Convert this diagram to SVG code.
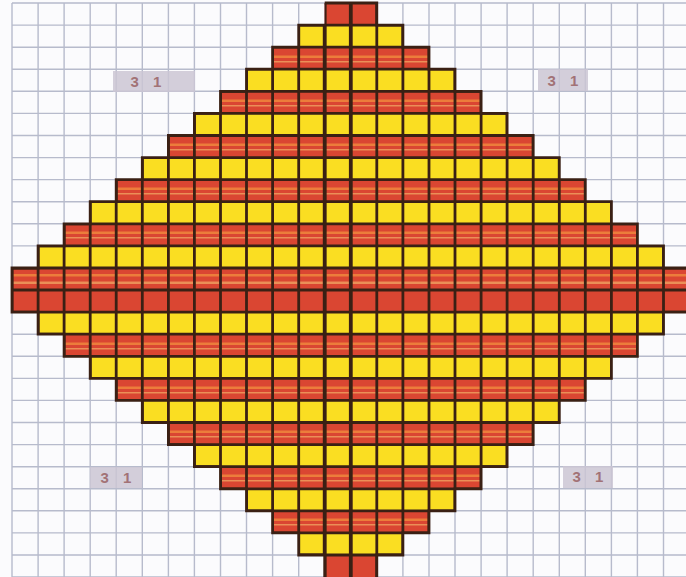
<svg xmlns="http://www.w3.org/2000/svg" width="686" height="577" viewBox="0 0 686 577">
<style>
.bg{fill:#fbfbfd}
.grid{stroke:#b7bbcc;stroke-width:1.4;fill:none}
.r{fill:#da4632}
.y{fill:#fade22}
.st1{fill:#f2903f;opacity:.75}
.st2{fill:#f6c070;opacity:.6}
.dk{stroke:#3a2014;stroke-width:2.8;fill:none}
.thick{stroke:#3a2014;stroke-width:3.8;fill:none}
.lblbox{fill:#cbc6d4;opacity:.85}
.lbl{font-family:"Liberation Sans",Arial,sans-serif;font-size:15px;font-weight:bold;fill:#8e4c4c;opacity:.7;text-anchor:middle;word-spacing:10px}
</style>
<defs>
<clipPath id="dia">
<rect x="324.7" y="3" width="52.1" height="22.1"/>
<rect x="298.7" y="25.1" width="104.2" height="22.1"/>
<rect x="272.6" y="47.2" width="156.4" height="22"/>
<rect x="246.5" y="69.2" width="208.5" height="22.1"/>
<rect x="220.5" y="91.3" width="260.6" height="22.1"/>
<rect x="194.4" y="113.4" width="312.7" height="22.1"/>
<rect x="168.4" y="135.5" width="364.8" height="22.1"/>
<rect x="142.3" y="157.6" width="417" height="22"/>
<rect x="116.2" y="179.6" width="469.1" height="22.1"/>
<rect x="90.2" y="201.7" width="521.2" height="22.1"/>
<rect x="64.1" y="223.8" width="573.3" height="22.1"/>
<rect x="38.1" y="245.9" width="625.4" height="22.1"/>
<rect x="12" y="268" width="677.6" height="44.1"/>
<rect x="38.1" y="312.1" width="625.4" height="22.1"/>
<rect x="64.1" y="334.2" width="573.3" height="22.1"/>
<rect x="90.2" y="356.3" width="521.2" height="22.1"/>
<rect x="116.2" y="378.4" width="469.1" height="22"/>
<rect x="142.3" y="400.4" width="417" height="22.1"/>
<rect x="168.4" y="422.5" width="364.8" height="22.1"/>
<rect x="194.4" y="444.6" width="312.7" height="22.1"/>
<rect x="220.5" y="466.7" width="260.6" height="22.1"/>
<rect x="246.5" y="488.8" width="208.5" height="22"/>
<rect x="272.6" y="510.8" width="156.4" height="22.1"/>
<rect x="298.7" y="532.9" width="104.2" height="22.1"/>
<rect x="324.7" y="555" width="52.1" height="22.1"/>
</clipPath>
</defs>
<rect class="bg" x="0" y="0" width="686" height="577"/>
<g id="background-grid">
<path class="grid" d="M12 3V577M38.1 3V577M64.1 3V577M90.2 3V577M116.2 3V577M142.3 3V577M168.4 3V577M194.4 3V577M220.5 3V577M246.5 3V577M272.6 3V577M298.7 3V577M324.7 3V577M350.8 3V577M376.8 3V577M402.9 3V577M429 3V577M455 3V577M481.1 3V577M507.1 3V577M533.2 3V577M559.3 3V577M585.3 3V577M611.4 3V577M637.4 3V577M663.5 3V577"/>
<path class="grid" d="M12 3H686M12 25.1H686M12 47.2H686M12 69.2H686M12 91.3H686M12 113.4H686M12 135.5H686M12 157.6H686M12 179.6H686M12 201.7H686M12 223.8H686M12 245.9H686M12 268H686M12 290H686M12 312.1H686M12 334.2H686M12 356.3H686M12 378.4H686M12 400.4H686M12 422.5H686M12 444.6H686M12 466.7H686M12 488.8H686M12 510.8H686M12 532.9H686M12 555H686M12 577H686"/>
</g>
<g id="diamond">
<rect class="r" x="324.7" y="3" width="52.1" height="22.1"/>
<rect class="y" x="298.7" y="25.1" width="104.2" height="22.1"/>
<rect class="r" x="272.6" y="47.2" width="156.4" height="22"/>
<rect class="y" x="246.5" y="69.2" width="208.5" height="22.1"/>
<rect class="r" x="220.5" y="91.3" width="260.6" height="22.1"/>
<rect class="y" x="194.4" y="113.4" width="312.7" height="22.1"/>
<rect class="r" x="168.4" y="135.5" width="364.8" height="22.1"/>
<rect class="y" x="142.3" y="157.6" width="417" height="22"/>
<rect class="r" x="116.2" y="179.6" width="469.1" height="22.1"/>
<rect class="y" x="90.2" y="201.7" width="521.2" height="22.1"/>
<rect class="r" x="64.1" y="223.8" width="573.3" height="22.1"/>
<rect class="y" x="38.1" y="245.9" width="625.4" height="22.1"/>
<rect class="r" x="12" y="268" width="677.6" height="22"/>
<rect class="r" x="12" y="290" width="677.6" height="22.1"/>
<rect class="y" x="38.1" y="312.1" width="625.4" height="22.1"/>
<rect class="r" x="64.1" y="334.2" width="573.3" height="22.1"/>
<rect class="y" x="90.2" y="356.3" width="521.2" height="22.1"/>
<rect class="r" x="116.2" y="378.4" width="469.1" height="22"/>
<rect class="y" x="142.3" y="400.4" width="417" height="22.1"/>
<rect class="r" x="168.4" y="422.5" width="364.8" height="22.1"/>
<rect class="y" x="194.4" y="444.6" width="312.7" height="22.1"/>
<rect class="r" x="220.5" y="466.7" width="260.6" height="22.1"/>
<rect class="y" x="246.5" y="488.8" width="208.5" height="22"/>
<rect class="r" x="272.6" y="510.8" width="156.4" height="22.1"/>
<rect class="y" x="298.7" y="532.9" width="104.2" height="22.1"/>
<rect class="r" x="324.7" y="555" width="52.1" height="22.1"/>
</g>
<g id="stripes" clip-path="url(#dia)">
<rect class="st1" x="0" y="55.5" width="686" height="2.5"/><rect class="st2" x="0" y="61" width="686" height="1.5"/>
<rect class="st1" x="0" y="99.5" width="686" height="2.5"/><rect class="st2" x="0" y="105" width="686" height="1.5"/>
<rect class="st1" x="0" y="143.5" width="686" height="2.5"/><rect class="st2" x="0" y="149" width="686" height="1.5"/>
<rect class="st1" x="0" y="187.5" width="686" height="2.5"/><rect class="st2" x="0" y="193" width="686" height="1.5"/>
<rect class="st1" x="0" y="231.5" width="686" height="2.5"/><rect class="st2" x="0" y="237" width="686" height="1.5"/>
<rect class="st1" x="0" y="274" width="686" height="2.5"/><rect class="st2" x="0" y="281.5" width="686" height="2.5"/>
<rect class="st1" x="0" y="342.5" width="686" height="2.5"/><rect class="st2" x="0" y="348" width="686" height="1.5"/>
<rect class="st1" x="0" y="386.5" width="686" height="2.5"/><rect class="st2" x="0" y="392" width="686" height="1.5"/>
<rect class="st1" x="0" y="430.5" width="686" height="2.5"/><rect class="st2" x="0" y="436" width="686" height="1.5"/>
<rect class="st1" x="0" y="474.5" width="686" height="2.5"/><rect class="st2" x="0" y="480" width="686" height="1.5"/>
<rect class="st1" x="0" y="518.5" width="686" height="2.5"/><rect class="st2" x="0" y="524" width="686" height="1.5"/>
</g>
<g id="cell-lines" clip-path="url(#dia)">
<path class="dk" d="M12 0V577M38.1 0V577M64.1 0V577M90.2 0V577M116.2 0V577M142.3 0V577M168.4 0V577M194.4 0V577M220.5 0V577M246.5 0V577M272.6 0V577M298.7 0V577M376.8 0V577M402.9 0V577M429 0V577M455 0V577M481.1 0V577M507.1 0V577M533.2 0V577M559.3 0V577M585.3 0V577M611.4 0V577M637.4 0V577M663.5 0V577"/>
<path class="dk" d="M0 25.1H686M0 47.2H686M0 69.2H686M0 91.3H686M0 113.4H686M0 135.5H686M0 157.6H686M0 179.6H686M0 201.7H686M0 223.8H686M0 245.9H686M0 268H686M0 290H686M0 312.1H686M0 334.2H686M0 356.3H686M0 378.4H686M0 400.4H686M0 422.5H686M0 444.6H686M0 466.7H686M0 488.8H686M0 510.8H686M0 532.9H686M0 555H686"/>
<path class="thick" d="M324.7 0V577M350.8 0V577"/>
</g>
<g id="outline">
<path class="dk" d="M324.7 3H376.8V25.1H402.9V47.2H429V69.2H455V91.3H481.1V113.4H507.1V135.5H533.2V157.6H559.3V179.6H585.3V201.7H611.4V223.8H637.4V245.9H663.5V268H690M690 312.1H663.5V334.2H637.4V356.3H611.4V378.4H585.3V400.4H559.3V422.5H533.2V444.6H507.1V466.7H481.1V488.8H455V510.8H429V532.9H402.9V555H376.8V577M324.7 577V555H298.7V532.9H272.6V510.8H246.5V488.8H220.5V466.7H194.4V444.6H168.4V422.5H142.3V400.4H116.2V378.4H90.2V356.3H64.1V334.2H38.1V312.1H12V268H38.1V245.9H64.1V223.8H90.2V201.7H116.2V179.6H142.3V157.6H168.4V135.5H194.4V113.4H220.5V91.3H246.5V69.2H272.6V47.2H298.7V25.1H324.7Z"/>
</g>
<g id="label-tl"><rect class="lblbox" x="113" y="71" width="82" height="21"/><text class="lbl" x="146" y="87">3 1</text></g>
<g id="label-tr"><rect class="lblbox" x="538" y="69" width="50" height="22"/><text class="lbl" x="563" y="86">3 1</text></g>
<g id="label-bl"><rect class="lblbox" x="90" y="467" width="52" height="21"/><text class="lbl" x="116" y="483">3 1</text></g>
<g id="label-br"><rect class="lblbox" x="563" y="466" width="50" height="22"/><text class="lbl" x="588" y="482">3 1</text></g>
</svg>
